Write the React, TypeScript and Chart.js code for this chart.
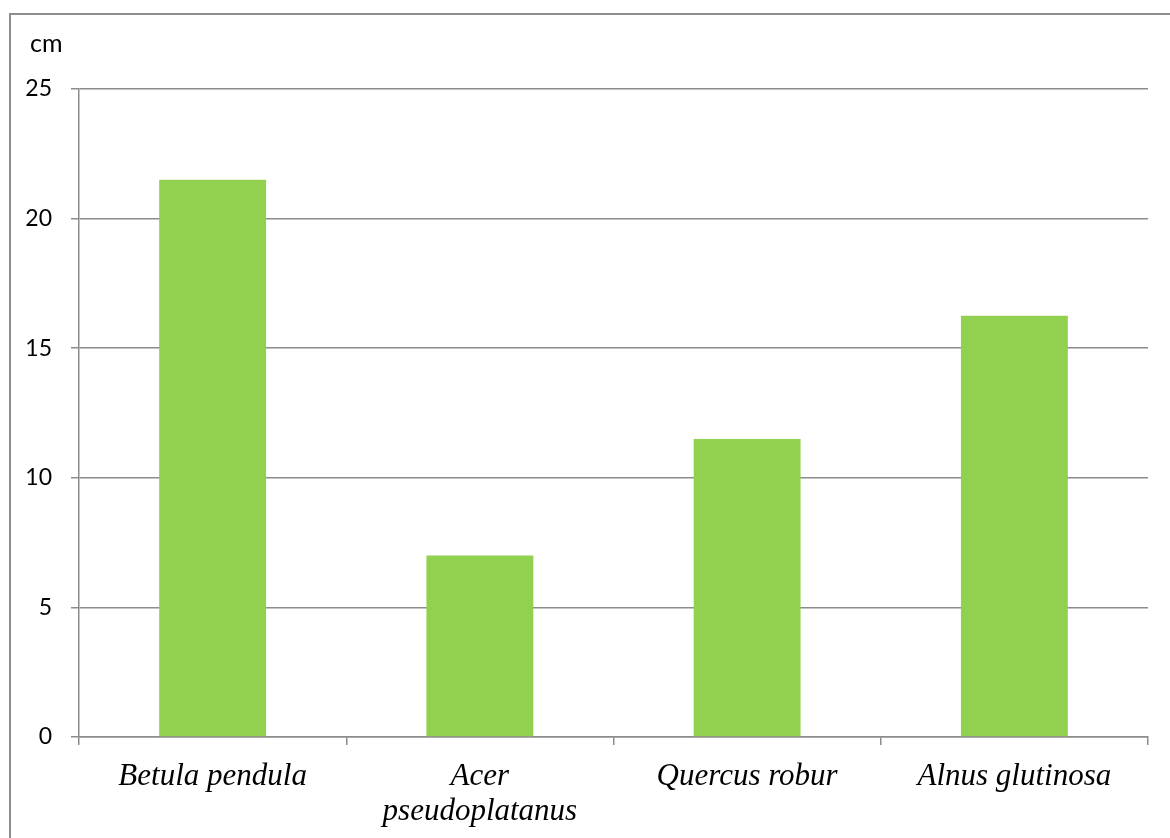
import React, { useEffect, useRef } from "react";
import { Chart, registerables } from "chart.js";

Chart.register(...registerables);

const categories: (string | string[])[] = [
  "Betula pendula",
  ["Acer", "pseudoplatanus"],
  "Quercus robur",
  "Alnus glutinosa",
];
const heights = [21.5, 7, 11.5, 16.25];
const yTicks = [0, 5, 10, 15, 20, 25];
const unitLabel = "cm";

const GRID = "#8c8c8c";
const BAR = "#92d050";

const unitPlugin = {
  id: "unitLabel",
  afterDraw(chart: Chart) {
    const { ctx } = chart;
    ctx.save();
    ctx.font = "25px Lato, 'Noto Sans', sans-serif";
    ctx.fillStyle = "#000";
    ctx.textAlign = "left";
    ctx.textBaseline = "alphabetic";
    ctx.fillText(unitLabel, 30, 52);
    ctx.restore();
  },
};

export default function App() {
  const ref = useRef<HTMLCanvasElement | null>(null);

  useEffect(() => {
    if (!ref.current) return;
    const chart = new Chart(ref.current, {
      type: "bar",
      data: {
        labels: categories,
        datasets: [
          {
            data: heights,
            backgroundColor: BAR,
            borderWidth: 0,
            categoryPercentage: 0.8,
            barPercentage: 0.5,
          },
        ],
      },
      plugins: [unitPlugin],
      options: {
        animation: false,
        responsive: false,
        maintainAspectRatio: false,
        layout: { padding: { left: 0, top: 89, right: 22, bottom: 0 } },
        plugins: {
          legend: { display: false },
          tooltip: { enabled: false },
          title: { display: false },
        },
        scales: {
          x: {
            grid: {
              display: true,
              drawOnChartArea: false,
              drawTicks: true,
              tickLength: 8,
              color: GRID,
              lineWidth: 1.5,
              offset: true,
            },
            border: { display: true, color: GRID, width: 1.5 },
            ticks: {
              color: "#000",
              padding: 14,
              maxRotation: 0,
              autoSkip: false,
              font: {
                family: "'Liberation Serif', 'Times New Roman', serif",
                style: "italic",
                size: 31,
                lineHeight: 1.13,
              },
            },
            afterFit(scale: any) {
              scale.height = 101;
            },
          },
          y: {
            min: 0,
            max: 25,
            afterBuildTicks(scale: any) {
              scale.ticks = yTicks.map((v) => ({ value: v }));
            },
            grid: {
              color: GRID,
              lineWidth: 1.5,
              drawTicks: true,
              tickLength: 8,
            },
            border: { display: true, color: GRID, width: 1.5 },
            ticks: {
              color: "#000",
              padding: 19,
              font: { family: "Lato, 'Noto Sans', sans-serif", size: 23 },
            },
            afterFit(scale: any) {
              scale.width = 79;
            },
          },
        },
      },
    });
    return () => chart.destroy();
  }, []);

  return (
    <div
      style={{
        position: "fixed",
        left: 0,
        top: 0,
        width: 1170,
        height: 838,
        overflow: "hidden",
        background: "#fff",
      }}
    >
      <div
        style={{
          position: "absolute",
          left: 9,
          top: 13,
          width: 1200,
          height: 900,
          border: "2px solid #8e8e8e",
        }}
      />
      <canvas
        ref={ref}
        width={1170}
        height={838}
        style={{ position: "absolute", left: 0, top: 0 }}
      />
    </div>
  );
}
